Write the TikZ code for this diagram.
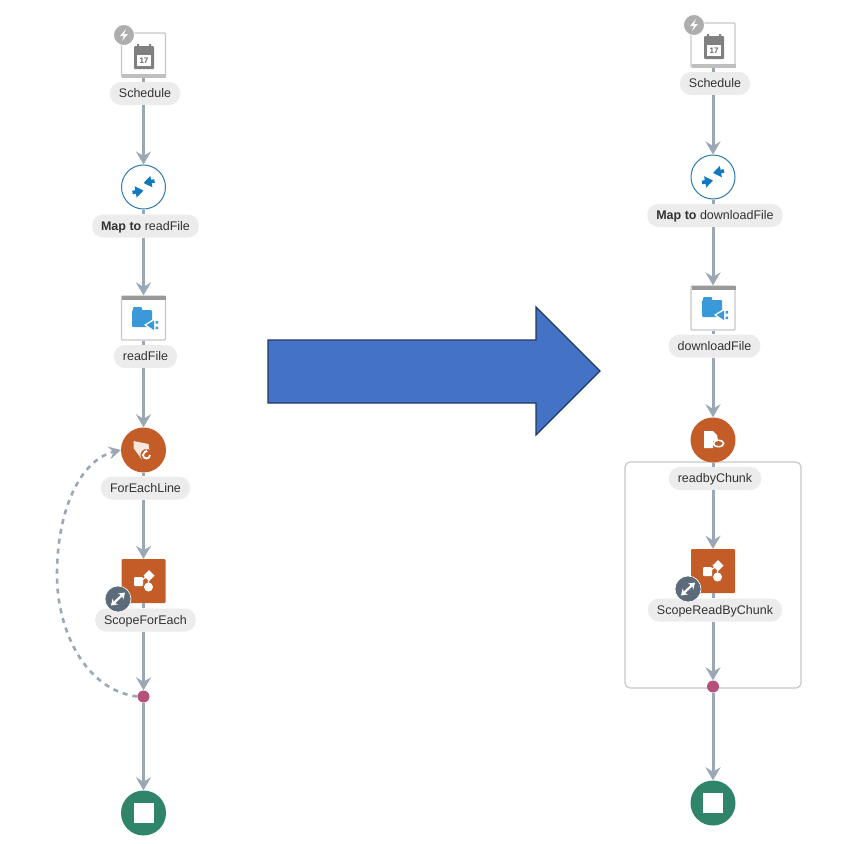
\documentclass[tikz,border=0pt]{standalone}
\usepackage{fontspec}
\setmainfont{Liberation Sans}
\usetikzlibrary{arrows.meta,shapes.geometric}
\definecolor{flowgray}{HTML}{9AA8B5}
\definecolor{pillgray}{HTML}{ECECEC}
\definecolor{rustorange}{HTML}{C45C28}
\definecolor{endgreen}{HTML}{2F8469}
\definecolor{dotpink}{HTML}{B5527A}
\definecolor{slategray}{HTML}{5C6B7A}
\definecolor{iconblue}{HTML}{3A9AD9}
\definecolor{mapblue}{HTML}{0F78BE}
\definecolor{bigblue}{HTML}{4472C4}
\definecolor{bigedge}{HTML}{1F3864}
\tikzset{
	pill/.style={fill=pillgray,rounded corners=11pt,inner xsep=9pt,inner ysep=0pt,minimum height=23pt,text=black!80,text height=11pt,text depth=2.5pt,font=\fontsize{12.5}{14}\selectfont},
	appbox/.style={draw=black!22,line width=1.2pt,fill=white,minimum size=44pt,inner sep=0pt,rounded corners=1pt},
	mapnode/.style={circle,draw=iconblue!80!black,line width=1pt,fill=white,minimum size=44pt,inner sep=0pt},
	eachnode/.style={circle,fill=rustorange,minimum size=45pt,inner sep=0pt},
	scopenode/.style={fill=rustorange,minimum size=44pt,inner sep=0pt,rounded corners=1pt},
	endnode/.style={circle,fill=endgreen,minimum size=45pt,inner sep=0pt},
	joindot/.style={circle,fill=dotpink,minimum size=12pt,inner sep=0pt},
	chunkframe/.style={draw=black!22,line width=1.2pt,fill=white,rounded corners=5pt,minimum width=176pt,minimum height=226pt},
	flow/.style={draw=flowgray,line width=3pt,-{Stealth[length=13pt,width=15pt,inset=4.5pt]}},
	stub/.style={draw=flowgray,line width=3pt},
	loopback/.style={draw=flowgray,line width=2.6pt,dash pattern=on 5pt off 5pt,-{Stealth[length=12pt,width=13pt,inset=4.5pt]}},
	calendar/.pic={
		\fill[black!25] (-22,19) rectangle (22,22.5);
		\fill[black!50,rounded corners=1pt] (-10,-9) rectangle (10,14);
		\fill[black!50] (-7,-11) rectangle (-5,-7) (5,-11) rectangle (7,-7);
		\fill[white] (-7,0) rectangle (7,11);
		\node[font=\bfseries\fontsize{8}{8}\selectfont,text=black!60,inner sep=0pt] at (0,5.5) {17};
		\fill[black!32,draw=white,line width=.8pt] (-20,-20) circle (10.5);
		\fill[white] (-18,-26) -- (-24,-19) -- (-20,-19) -- (-22,-14) -- (-16,-21) -- (-20,-21) -- cycle;
	},
	merge/.pic={
		\draw[mapblue,line width=3.6pt,-{Stealth[length=8pt,width=11pt,inset=0pt]}] (-11,5.5) -- (0,3.5);
		\draw[mapblue,line width=3.6pt,-{Stealth[length=8pt,width=11pt,inset=0pt]}] (11,-6) -- (0,-4);
	},
	ftpfile/.pic={
		\fill[black!40] (-22,-22) rectangle (22,-18.5);
		\fill[iconblue,rounded corners=1pt] (-11,-11) rectangle (-2,-6) (-12,-8) rectangle (8,9);
		\fill[white] (0,7) -- (11,0) -- (11,14) -- cycle;
		\fill[iconblue] (2.5,7) -- (10,2.5) -- (10,12) -- cycle;
		\fill[iconblue] (11.5,3) rectangle (14,5.5) (11.5,8.5) rectangle (14,11);
	},
	foreachicon/.pic={
		\fill[white!85!rustorange] (-10,-9) -- (5,-6) -- (6,1) -- (-2,9) -- (-10,-2) -- cycle;
		\fill[rustorange] (3,5) circle (6);
		\draw[white,line width=1.8pt,-{Stealth[length=3pt,width=4.5pt]}] (6.5,5) arc (0:290:3.5);
	},
	chunkicon/.pic={
		\fill[white] (-9,-9) -- (0,-9) -- (4,-5) -- (5,0) -- (0,1) -- (0,8) -- (-9,8) -- cycle;
		\fill[white] (5.5,3.5) ellipse (6 and 4);
		\fill[rustorange] (5.5,3.5) ellipse (4 and 2.4);
	},
	scopeicon/.pic={
		\draw[white,line width=1.2pt] (-2,-1) -- (5,-6) (5,-4) -- (4,5);
		\fill[white,rounded corners=1pt] (-10,-4) rectangle (-1,5);
		\fill[white] (5,-11) -- (10.5,-5.5) -- (5,0) -- (-.5,-5.5) -- cycle;
		\fill[white] (4.5,6) circle (4.5);
	},
	expander/.pic={
		\fill[slategray,draw=white,line width=.6pt] (0,0) circle (13);
		\draw[white,line width=2.2pt,{Stealth[length=6pt,width=8pt]}-{Stealth[length=6pt,width=8pt]}] (-7,6.5) -- (7,-6.5);
	}
}
\begin{document}
\begin{tikzpicture}[x=1pt,y=-1pt]
	\useasboundingbox (0,0) rectangle (842,844);
	\node[chunkframe] (chunkframe) at (713,575) {};

	\node[appbox] (schedL) at (143.5,55) {};
	\pic at (144,55) {calendar};
	\node[pill] (schedLabelL) at (145,93.5) {Schedule};
	\node[mapnode] (mapL) at (143.5,187) {};
	\pic at (143.5,187) {merge};
	\node[pill] (mapLabelL) at (145.5,226) {\textbf{Map to} readFile};
	\node[appbox] (readL) at (143.5,318) {};
	\pic at (144,318) {ftpfile};
	\node[pill] (readLabelL) at (145.5,356.5) {readFile};
	\node[eachnode] (eachL) at (143.5,450) {};
	\pic at (143.5,450) {foreachicon};
	\node[pill] (eachLabelL) at (145.5,488) {ForEachLine};
	\node[scopenode] (scopeL) at (143.5,581) {};
	\pic at (144,581) {scopeicon};
	\node[pill] (scopeLabelL) at (145.5,620) {ScopeForEach};
	\pic at (118,599) {expander};
	\node[joindot] (dotL) at (143.5,696.5) {};
	\node[endnode] (endL) at (143.5,813) {};
	\node[fill=white,minimum size=20pt,inner sep=0pt] (stopL) at (143.5,813) {};

	\node[appbox] (schedR) at (713,45) {};
	\pic at (714,45) {calendar};
	\node[pill] (schedLabelR) at (715,83.5) {Schedule};
	\node[mapnode] (mapR) at (713,177) {};
	\pic at (713,177) {merge};
	\node[pill] (mapLabelR) at (715,215.5) {\textbf{Map to} downloadFile};
	\node[appbox] (readR) at (713,308) {};
	\pic at (714,308) {ftpfile};
	\node[pill] (readLabelR) at (714.5,346) {downloadFile};
	\node[eachnode] (eachR) at (713,440) {};
	\pic at (713,440) {chunkicon};
	\node[pill] (eachLabelR) at (715,478.5) {readbyChunk};
	\node[scopenode] (scopeR) at (713,571) {};
	\pic at (713,571) {scopeicon};
	\node[pill] (scopeLabelR) at (715,610) {ScopeReadByChunk};
	\pic at (688,589) {expander};
	\node[joindot] (dotR) at (713,686.5) {};
	\node[endnode] (endR) at (713,803) {};
	\node[fill=white,minimum size=20pt,inner sep=0pt] (stopR) at (713,803) {};

	\foreach \side in {L,R}{
		\draw[stub] (sched\side.south) -- (sched\side.south |- schedLabel\side.north);
		\draw[flow] (map\side.north |- schedLabel\side.south) -- (map\side.north);
		\draw[stub] (map\side.south) -- (map\side.south |- mapLabel\side.north);
		\draw[flow] (read\side.north |- mapLabel\side.south) -- (read\side.north);
		\draw[stub] (read\side.south) -- (read\side.south |- readLabel\side.north);
		\draw[flow] (each\side.north |- readLabel\side.south) -- (each\side.north);
		\draw[stub] (each\side.south) -- (each\side.south |- eachLabel\side.north);
		\draw[flow] (scope\side.north |- eachLabel\side.south) -- (scope\side.north);
		\draw[stub] (scope\side.south) -- (scope\side.south |- scopeLabel\side.north);
		\draw[flow] (dot\side.north |- scopeLabel\side.south) -- (dot\side.north);
		\draw[flow] (dot\side.south) -- (end\side.north);
	}
	\draw[loopback] (dotL.west) .. controls (85,690) and (57,630) .. (57,575) .. controls (57,510) and (80,460) .. (eachL.west);

	\draw[bigedge,line width=1.3pt,fill=bigblue] (268,340) -- (536,340) -- (536,307) -- (600,371) -- (536,435) -- (536,403) -- (268,403) -- cycle;
\end{tikzpicture}
\end{document}
